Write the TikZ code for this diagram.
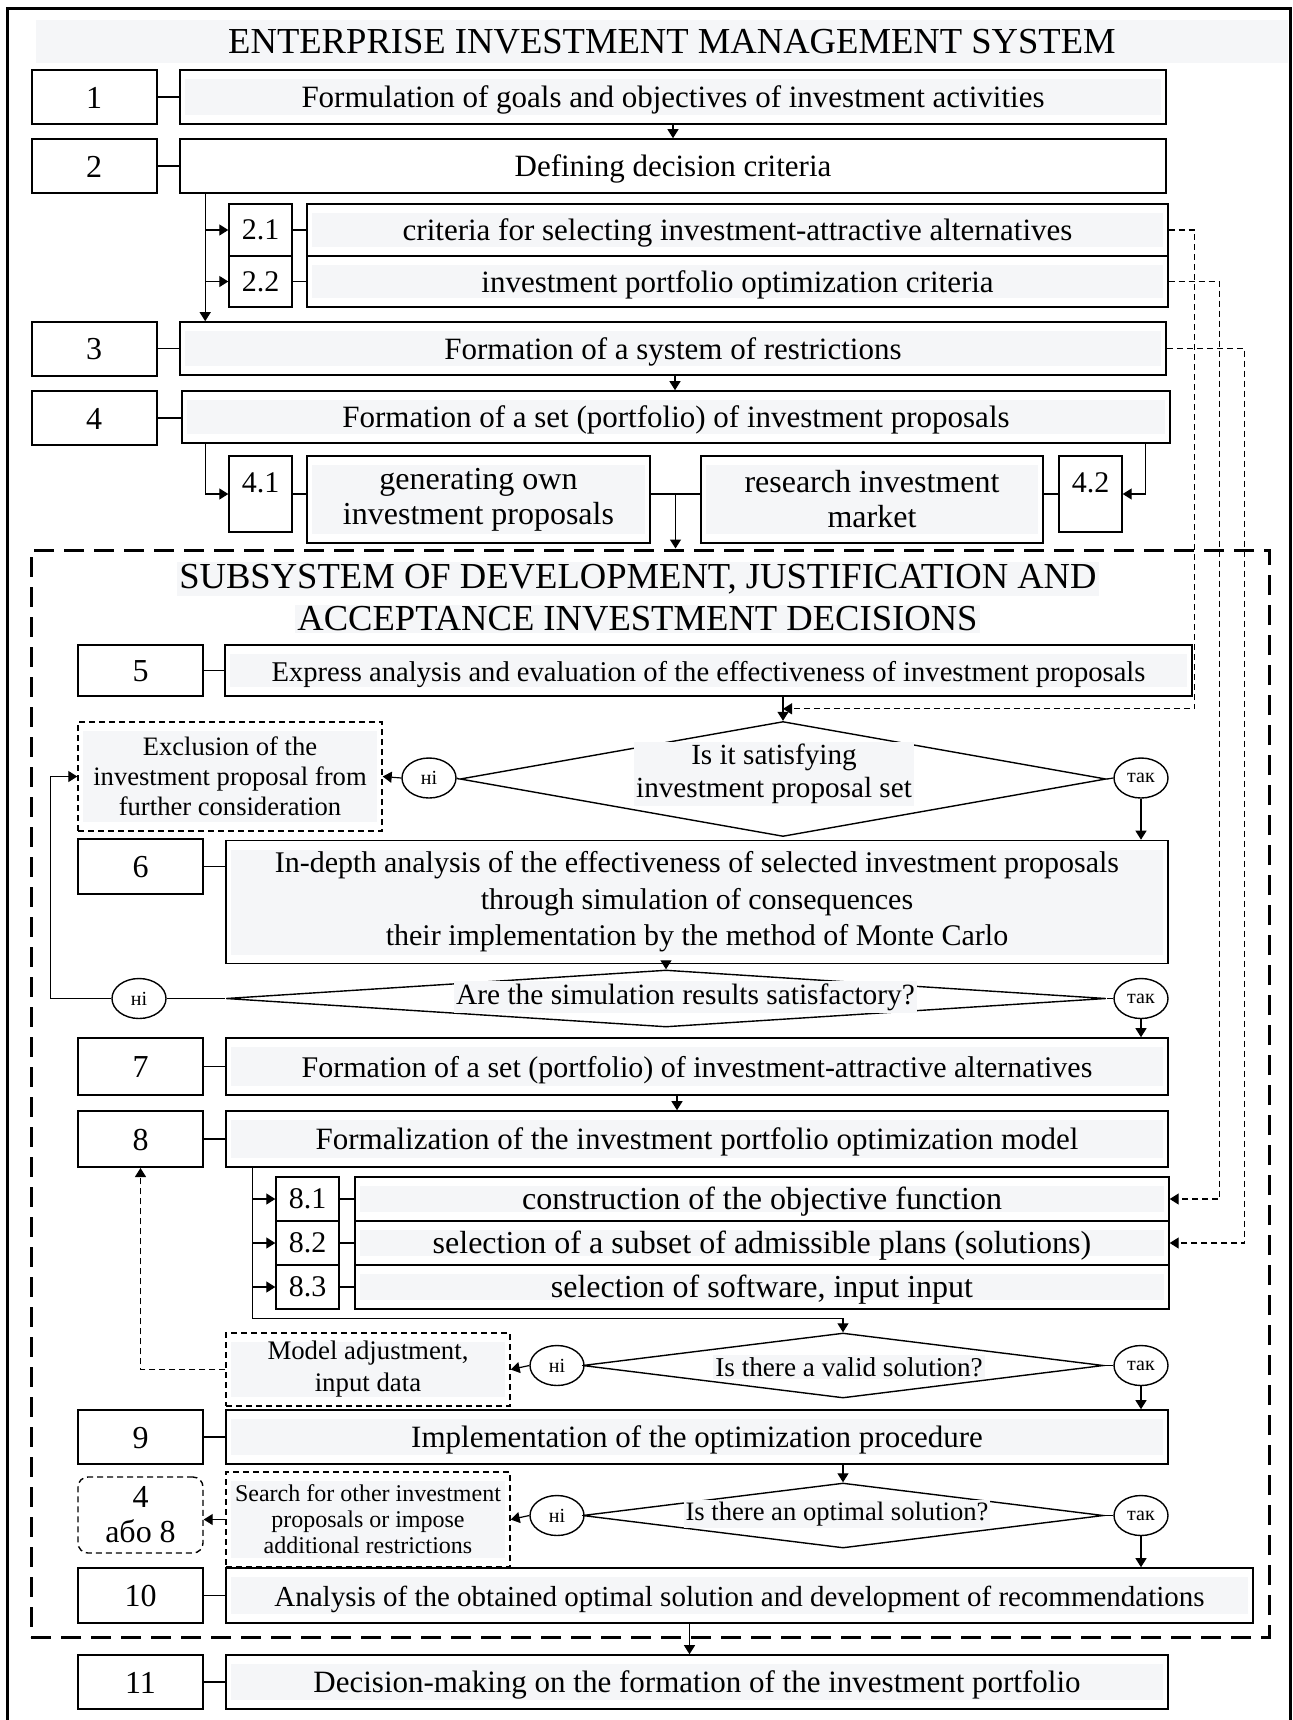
\documentclass[tikz,border=0pt]{standalone}
\usepackage{fontspec}
\setmainfont{Liberation Serif}
\usetikzlibrary{arrows.meta, shapes.geometric, calc}

\definecolor{boxgray}{RGB}{245,246,248}

\tikzset{
  >={Triangle[length=4.5pt,width=5.5pt]},
  hl/.style={path picture={\fill[boxgray] ([shift={(2.5pt,-4.5pt)}]path picture bounding box.north west) rectangle ([shift={(-2.5pt,4.5pt)}]path picture bounding box.south east);}},
  oneline/.style={text height=11.5pt, text depth=1pt},
  numbox/.style={draw, line width=1pt, fill=white, minimum width=62.5pt, minimum height=27pt, inner sep=0pt, text height=11pt, text depth=0pt, font=\fontsize{16}{17.5}\selectfont},
  mainbox/.style={draw, line width=0.8pt, minimum height=27pt, inner sep=0pt, align=center, font=\fontsize{15.5}{18}\selectfont},
  subnum/.style={draw, line width=0.7pt, minimum width=31.5pt, inner sep=0pt, font=\fontsize{15}{17}\selectfont},
  subbox/.style={draw, line width=0.7pt, hl, inner sep=0pt, align=center, font=\fontsize{15.5}{17.5}\selectfont},
  dbox/.style={draw, dash pattern=on 3pt off 2pt, line width=0.7pt, hl, inner sep=0pt, align=center},
  decision/.style={draw, diamond, line width=0.7pt, inner sep=0pt},
  qtext/.style={fill=boxgray, inner sep=1pt, align=center},
  answer/.style={draw, ellipse, line width=0.7pt, fill=white, minimum width=27pt, minimum height=20pt, inner sep=0pt, font=\fontsize{10}{12}\selectfont},
  conn/.style={line width=0.6pt},
  fback/.style={line width=0.6pt, dash pattern=on 3pt off 2pt},
}

\begin{document}
\begin{tikzpicture}[x=0.5pt, y=-0.5pt]
\useasboundingbox (0,0) rectangle (1293,1720);

% outer frame and title
\draw[line width=1.5pt] (7,1722) -- (7,8) -- (1290,8) -- (1290,1722);
\fill[boxgray] (36,20) rectangle (1288,63);
\node[font=\fontsize{18.3}{20}\selectfont] (title) at (672,42) {ENTERPRISE INVESTMENT MANAGEMENT SYSTEM};

% subsystem frame
\node[draw, line width=1.5pt, dash pattern=on 10pt off 5pt, minimum width=619pt, minimum height=543.5pt, inner sep=0pt] (subsys) at (650,1093.5) {};

% stages 1-4
\node[numbox] (n1) at (94,97) {1};
\node[mainbox, hl, oneline, minimum width=493pt] (m1) at (673,97) {Formulation of goals and objectives of investment activities};
\node[numbox] (n2) at (94,166) {2};
\node[mainbox, oneline, minimum width=493pt] (m2) at (673,166) {Defining decision criteria};
\node[numbox] (n3) at (94,348.5) {3};
\node[mainbox, hl, oneline, minimum width=493pt, minimum height=26.5pt] (m3) at (673,348.5) {Formation of a system of restrictions};
\node[numbox] (n4) at (94,418) {4};
\node[mainbox, hl, oneline, minimum width=494pt, minimum height=26pt] (m4) at (676,417) {Formation of a set (portfolio) of investment proposals};

% criteria 2.1, 2.2
\node[subnum, minimum height=26pt] (s21) at (260.5,230) {2.1};
\node[subnum, minimum height=25.5pt] (s22) at (260.5,281.5) {2.2};
\node[subbox, oneline, minimum width=430.5pt, minimum height=26pt] (ms21) at (737.5,230) {criteria for selecting investment-attractive alternatives};
\node[subbox, oneline, minimum width=430.5pt, minimum height=25.5pt] (ms22) at (737.5,281.5) {investment portfolio optimization criteria};

% sources 4.1, 4.2
\node[subnum, minimum height=38pt, text depth=11pt] (s41) at (260.5,494) {4.1};
\node[subbox, minimum width=171.5pt, minimum height=43.5pt, font=\fontsize{16}{17.5}\selectfont] (ms41) at (478.5,499.5) {generating own\\investment proposals};
\node[subbox, minimum width=171pt, minimum height=43.5pt, font=\fontsize{16}{17.5}\selectfont] (ms42) at (872,499.5) {research investment\\market};
\node[subnum, minimum height=38pt, text depth=11pt] (s42) at (1090.5,494) {4.2};

% subsystem title
\node[qtext, font=\fontsize{18.3}{20}\selectfont] (subt1) at (638,579) {SUBSYSTEM OF DEVELOPMENT, JUSTIFICATION AND};
\node[qtext, font=\fontsize{18.3}{20}\selectfont] (subt2) at (637.5,619) {ACCEPTANCE INVESTMENT DECISIONS};

% stage 5 and first check
\node[numbox, minimum height=25.5pt] (n5) at (140.5,670.5) {5};
\node[mainbox, hl, oneline, minimum width=483.5pt, minimum height=25.5pt, font=\fontsize{14.3}{17}\selectfont] (m5) at (708.5,670.5) {Express analysis and evaluation of the effectiveness of investment proposals};
\node[decision, minimum width=323pt, minimum height=57.5pt] (d1) at (783,779) {};
\node[qtext, font=\fontsize{14.6}{16.5}\selectfont] (d1t) at (774,774) {Is it satisfying\\investment proposal set};
\node[answer] (no1) at (429,778) {ні};
\node[answer] (yes1) at (1141,778) {так};
\node[dbox, minimum width=152pt, minimum height=54.5pt, font=\fontsize{13.3}{15}\selectfont] (excl) at (230,776.5) {Exclusion of the\\investment proposal from\\further consideration};

% stage 6 and second check
\node[numbox, minimum height=27.5pt] (n6) at (140.5,866.5) {6};
\node[mainbox, hl, minimum width=471pt, minimum height=61.5pt, font=\fontsize{15}{18.25}\selectfont] (m6) at (697,902) {In-depth analysis of the effectiveness of selected investment proposals\\through simulation of consequences\\their implementation by the method of Monte Carlo};
\node[decision, minimum width=440pt, minimum height=28.5pt] (d2) at (666,998.5) {};
\node[qtext, font=\fontsize{14.7}{16}\selectfont] (d2t) at (685.5,997) {Are the simulation results satisfactory?};
\node[answer] (no2) at (139,998.5) {ні};
\node[answer] (yes2) at (1141,998.5) {так};

% stages 7-8
\node[numbox, minimum height=28.5pt] (n7) at (140.5,1066.5) {7};
\node[mainbox, hl, oneline, minimum width=471pt, minimum height=28.5pt, font=\fontsize{15}{18}\selectfont] (m7) at (697,1066.5) {Formation of a set (portfolio) of investment-attractive alternatives};
\node[numbox, minimum height=28pt] (n8) at (140.5,1139) {8};
\node[mainbox, hl, oneline, minimum width=471pt, minimum height=28pt] (m8) at (697,1139) {Formalization of the investment portfolio optimization model};

\node[subnum, minimum height=22pt] (s81) at (307.5,1199) {8.1};
\node[subnum, minimum height=22pt] (s82) at (307.5,1243) {8.2};
\node[subnum, minimum height=22pt] (s83) at (307.5,1287) {8.3};
\node[subbox, oneline, minimum width=407pt, minimum height=22pt, font=\fontsize{16}{17.5}\selectfont] (ms81) at (762,1199) {construction of the objective function};
\node[subbox, oneline, minimum width=407pt, minimum height=22pt, font=\fontsize{16}{17.5}\selectfont] (ms82) at (762,1243) {selection of a subset of admissible plans (solutions)};
\node[subbox, oneline, minimum width=407pt, minimum height=22pt, font=\fontsize{16}{17.5}\selectfont] (ms83) at (762,1287) {selection of software, input input};

% model check
\node[decision, minimum width=260.5pt, minimum height=32.5pt] (d3) at (843,1365.5) {};
\node[qtext, font=\fontsize{13.6}{15}\selectfont] (d3t) at (849,1367) {Is there a valid solution?};
\node[answer] (no3) at (557,1365.5) {ні};
\node[answer] (yes3) at (1141,1365.5) {так};
\node[dbox, minimum width=142pt, minimum height=36.5pt, font=\fontsize{13.4}{16}\selectfont] (adj) at (368,1369.5) {Model adjustment,\\input data};

% stage 9 and optimum check
\node[numbox] (n9) at (140.5,1437) {9};
\node[mainbox, hl, oneline, minimum width=471pt] (m9) at (697,1437) {Implementation of the optimization procedure};
\node[decision, minimum width=260.5pt, minimum height=32.5pt] (d4) at (843,1515.5) {};
\node[qtext, font=\fontsize{13.3}{15}\selectfont] (d4t) at (837,1514) {Is there an optimal solution?};
\node[answer] (no4) at (557,1515.5) {ні};
\node[answer] (yes4) at (1141,1515.5) {так};
\node[dbox, minimum width=142pt, minimum height=47.5pt, font=\fontsize{12}{13}\selectfont] (srch) at (368,1519.5) {Search for other investment\\proposals or impose\\additional restrictions};
\node[draw, dash pattern=on 3pt off 2pt, line width=0.7pt, rounded corners=5pt, minimum width=62.5pt, minimum height=38pt, inner sep=0pt, align=center, font=\fontsize{16}{17.5}\selectfont] (or48) at (140.5,1515) {4\\або 8};

% stages 10-11
\node[numbox, minimum height=27.5pt] (n10) at (140.5,1595.5) {10};
\node[mainbox, hl, oneline, minimum width=513.5pt, minimum height=27.5pt, font=\fontsize{14.5}{17}\selectfont] (m10) at (739.5,1595.5) {Analysis of the obtained optimal solution and development of recommendations};
\node[numbox] (n11) at (140.5,1682) {11};
\node[mainbox, hl, oneline, minimum width=471pt] (m11) at (697,1682) {Decision-making on the formation of the investment portfolio};

% number to box links
\foreach \i in {1,2,3,4,5,6,7,8,9,10,11}
  \draw[conn] (n\i.east) -- (n\i.east -| m\i.west);
\draw[conn] (s21.east) -- (s21.east -| ms21.west);
\draw[conn] (s22.east) -- (s22.east -| ms22.west);
\foreach \i in {81,82,83}
  \draw[conn] (s\i.east) -- (s\i.east -| ms\i.west);

% main flow
\draw[conn,->] (m1.south) -- (m1.south |- m2.north);
\coordinate (br2) at ([xshift=13pt]m2.south west);
\draw[conn,->] (br2) -- (br2 |- m3.north);
\draw[conn,->] (br2 |- s21.west) -- (s21.west);
\draw[conn,->] (br2 |- s22.west) -- (s22.west);
\draw[conn,->] ([xshift=1pt]m3.south) -- ([xshift=1pt]m3.south |- m4.north);

\coordinate (br4) at ([xshift=12pt]m4.south west);
\draw[conn,->] (br4) |- (s41.west);
\draw[conn,->] ([xshift=-12.5pt]m4.south east) |- (s42.east);
\draw[conn] (s41.east) -- (s41.east -| ms41.west);
\draw[conn] (s41.east -| ms41.east) -- (s42.west -| ms42.west);
\draw[conn] (s42.west -| ms42.east) -- (s42.west);
\coordinate (j4) at ($(s41.east -| ms41.east)!0.5!(s42.west -| ms42.west)$);
\draw[conn,->] (j4) -- (j4 |- subsys.north);

\draw[conn,->] (m5.south -| d1.north) -- (d1.north);
\draw[conn] (d1.west) -- (no1.east);
\draw[conn,->] (no1.west) -- (excl.east);
\draw[conn] (d1.east) -- (yes1.west);
\draw[conn,->] (yes1.south) -- (yes1.south |- m6.north);

\draw[conn,->] (m6.south -| d2.north) -- (d2.north);
\draw[conn] (d2.west) -- (no2.east);
\draw[conn,->] (no2.west) -- ++(-61,0) |- (excl.west);
\draw[conn] (d2.east) -- (yes2.west);
\draw[conn,->] (yes2.south) -- (yes2.south |- m7.north);

\draw[conn,->] ([xshift=-10pt]m7.south) -- ([xshift=-10pt]m8.north);
\coordinate (br8) at ([xshift=13.5pt]m8.south west);
\draw[conn,->] (br8) -- ++(0,151) -| (d3.north);
\draw[conn,->] (br8 |- s81.west) -- (s81.west);
\draw[conn,->] (br8 |- s82.west) -- (s82.west);
\draw[conn,->] (br8 |- s83.west) -- (s83.west);

\draw[conn] (d3.west) -- (no3.east);
\draw[conn,->] (no3.west) -- (adj.east);
\draw[fback,->] (adj.west) -| (n8.south);
\draw[conn] (d3.east) -- (yes3.west);
\draw[conn,->] (yes3.south) -- (yes3.south |- m9.north);

\draw[conn,->] (m9.south -| d4.north) -- (d4.north);
\draw[conn] (d4.west) -- (no4.east);
\draw[conn,->] (no4.west) -- (srch.east);
\draw[conn,->] (srch.west) -- (srch.west -| or48.east);
\draw[conn] (d4.east) -- (yes4.west);
\draw[conn,->] (yes4.south) -- (yes4.south |- m10.north);

\draw[conn,->] ([xshift=-25pt]m10.south) -- ([xshift=-25pt]m10.south |- m11.north);

% criteria feed the checks
\coordinate (in5) at ($(m5.south -| d1.north)!0.5!(d1.north)$);
\draw[fback,->] (ms21.east) -- ++(26,0) |- (in5);
\draw[fback,->] (ms22.east) -- ++(51,0) |- (ms81.east);
\draw[fback,->] (m3.east) -- ++(78,0) |- (ms82.east);

\end{tikzpicture}
\end{document}
